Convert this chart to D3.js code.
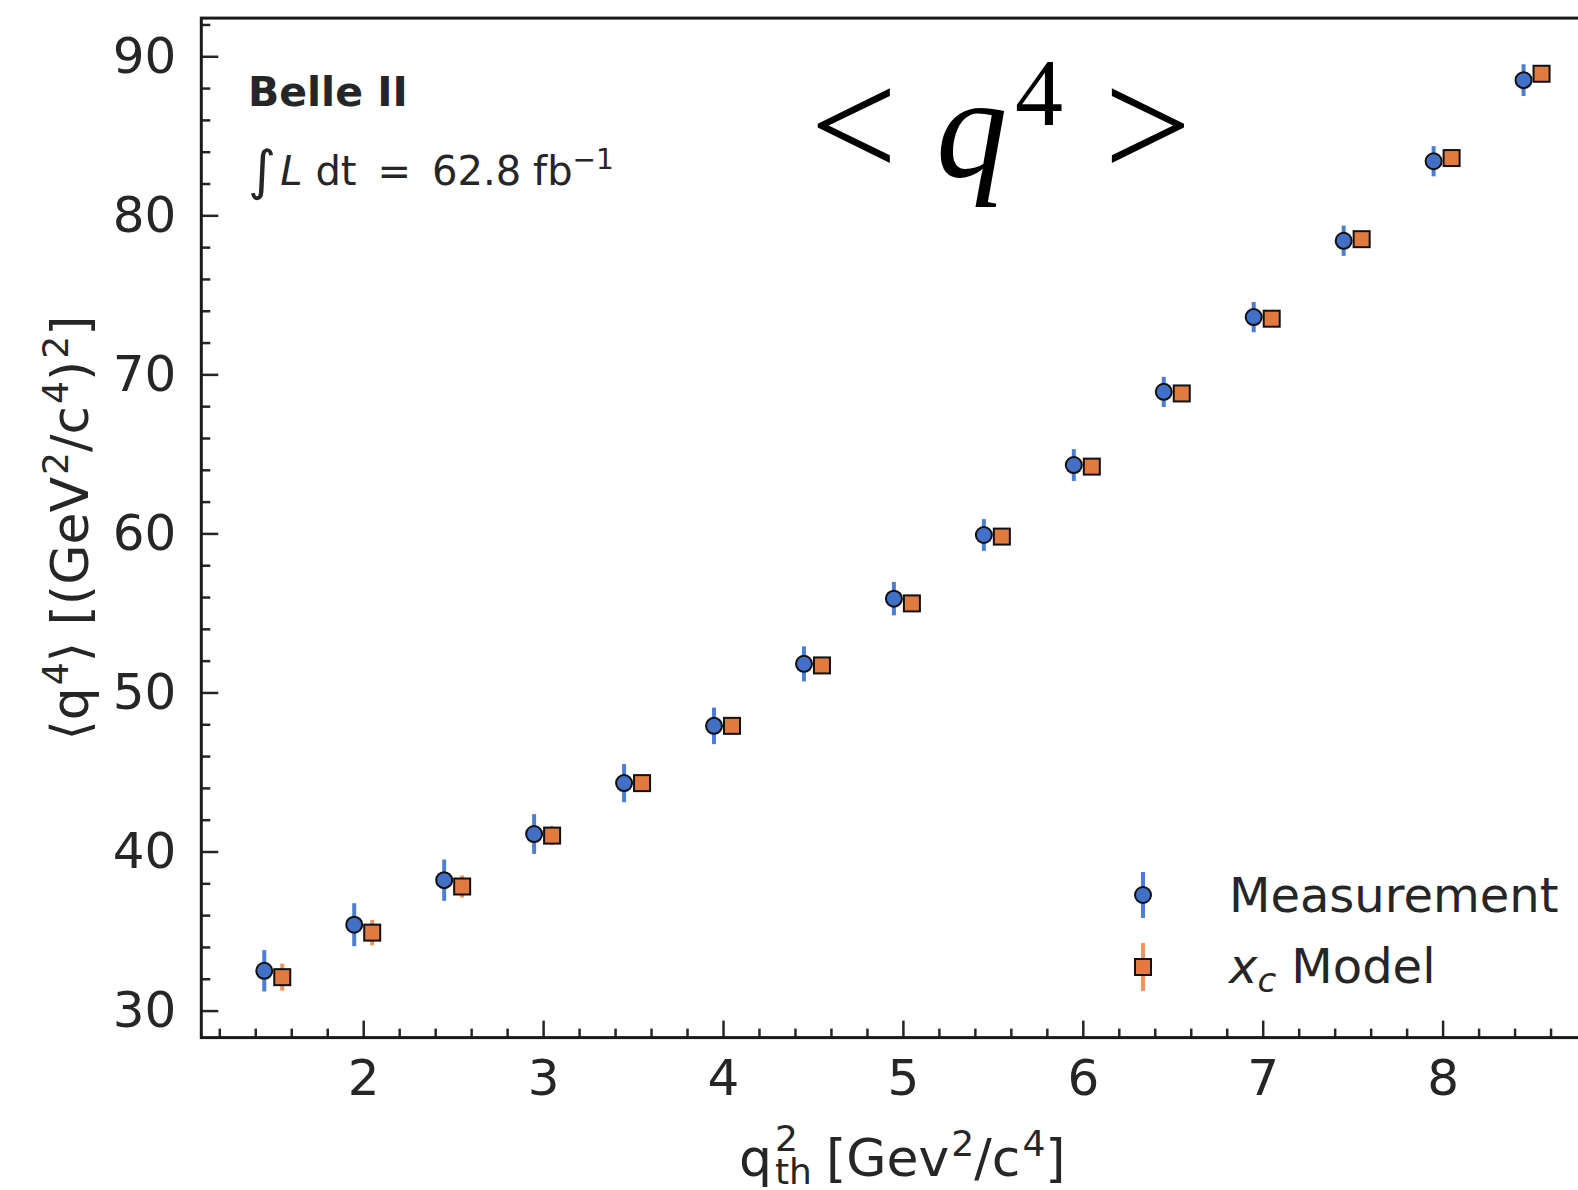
<!DOCTYPE html>
<html>
<head>
<meta charset="utf-8">
<script src="https://cdn.jsdelivr.net/npm/d3@7"></script>
<style>
  html, body { margin: 0; padding: 0; background: #fff; overflow: hidden; }
  svg { display: block; }
</style>
</head>
<body>
<svg id="chart"></svg>
<script>
// q2 threshold bins
const q2Bins = [1.5, 2.0, 2.5, 3.0, 3.5, 4.0, 4.5, 5.0, 5.5, 6.0, 6.5, 7.0, 7.5, 8.0, 8.5]
// measurement <q4> and its uncertainty
const measValues = [32.5, 35.4, 38.2, 41.1, 44.3, 47.9, 51.8, 55.9, 59.9, 64.3, 68.9, 73.6, 78.4, 83.4, 88.5]
const measErrors = [1.3, 1.35, 1.3, 1.25, 1.2, 1.15, 1.1, 1.05, 1.0, 1.0, 0.95, 0.95, 0.95, 0.95, 1.0]
// x_c model <q4> and its uncertainty
const modelValues = [32.1, 34.9, 37.8, 41.0, 44.3, 47.9, 51.7, 55.6, 59.8, 64.2, 68.8, 73.5, 78.5, 83.6, 88.9]
const modelErrors = [0.85, 0.8, 0.7, 0.6, 0.5, 0.45, 0.4, 0.35, 0.3, 0.3, 0.3, 0.3, 0.3, 0.3, 0.3]
const xTicks = [2, 3, 4, 5, 6, 7, 8]
const yTicks = [30, 40, 50, 60, 70, 80, 90]

const width = 1578, height = 1190
const plotLeft = 201.3, plotTop = 18.1, plotBottom = 1037.6
const offset = 0.05

const blue = '#4170c6', blueBar = '#4b7fd6'
const orange = '#e07a3e', orangeBar = '#f0955a'
const ink = '#262626'
const font = "'DejaVu Sans', sans-serif"
const serif = "'Liberation Serif', 'Times New Roman', serif"

const svg = d3.select('#chart').attr('width', width).attr('height', height)

const x = d3.scaleLinear().domain([1.1, 9.5]).range([plotLeft, plotLeft + 8.4 * 179.9])
const y = d3.scaleLinear().domain([28.3, 92.4]).range([plotBottom, plotTop])

const plotRight = x.range()[1]

// minor ticks
const xMinor = d3.range(1.2, 9.5, 0.2).filter(v => Math.abs(v - Math.round(v)) > 0.01)
const yMinor = d3.range(30, 93, 2).filter(v => v % 10 !== 0)

svg.append('g')
  .attr('transform', `translate(0,${plotBottom})`)
  .call(d3.axisBottom(x).tickValues(xMinor).tickSize(-9).tickFormat(''))
  .call(g => g.select('.domain').remove())
  .call(g => g.selectAll('line').attr('stroke', ink).attr('stroke-width', 2.5))

svg.append('g')
  .attr('transform', `translate(${plotLeft},0)`)
  .call(d3.axisLeft(y).tickValues(yMinor).tickSize(-9).tickFormat(''))
  .call(g => g.select('.domain').remove())
  .call(g => g.selectAll('line').attr('stroke', ink).attr('stroke-width', 2.5))

// major ticks
svg.append('g')
  .attr('transform', `translate(0,${plotBottom})`)
  .call(d3.axisBottom(x).tickValues(xTicks).tickSize(-17).tickPadding(22).tickFormat(d3.format('d')))
  .call(g => g.select('.domain').remove())
  .call(g => g.selectAll('line').attr('stroke', ink).attr('stroke-width', 2.5))
  .call(g => g.selectAll('text').attr('fill', ink).attr('font-size', 50).attr('font-family', font))

svg.append('g')
  .attr('transform', `translate(${plotLeft},0)`)
  .call(d3.axisLeft(y).tickValues(yTicks).tickSize(-17).tickPadding(25).tickFormat(d3.format('d')))
  .call(g => g.select('.domain').remove())
  .call(g => g.selectAll('line').attr('stroke', ink).attr('stroke-width', 2.5))
  .call(g => g.selectAll('text').attr('fill', ink).attr('font-size', 50).attr('font-family', font))

// frame
svg.append('rect')
  .attr('x', plotLeft).attr('y', plotTop)
  .attr('width', plotRight - plotLeft).attr('height', plotBottom - plotTop)
  .attr('fill', 'none').attr('stroke', '#1a1a1a').attr('stroke-width', 3)

// data
const meas = q2Bins.map((q, i) => ({ q: q - offset, v: measValues[i], e: measErrors[i] }))
const model = q2Bins.map((q, i) => ({ q: q + offset, v: modelValues[i], e: modelErrors[i] }))

const pts = svg.append('g')

pts.selectAll('.meas-bar').data(meas).enter().append('line')
  .attr('class', 'meas-bar')
  .attr('x1', d => x(d.q)).attr('x2', d => x(d.q))
  .attr('y1', d => y(d.v - d.e)).attr('y2', d => y(d.v + d.e))
  .attr('stroke', blueBar).attr('stroke-width', 4)

pts.selectAll('.model-bar').data(model).enter().append('line')
  .attr('class', 'model-bar')
  .attr('x1', d => x(d.q)).attr('x2', d => x(d.q))
  .attr('y1', d => y(d.v - d.e)).attr('y2', d => y(d.v + d.e))
  .attr('stroke', orangeBar).attr('stroke-width', 4)

pts.selectAll('.meas-pt').data(meas).enter().append('circle')
  .attr('class', 'meas-pt')
  .attr('cx', d => x(d.q)).attr('cy', d => y(d.v)).attr('r', 8)
  .attr('fill', blue).attr('stroke', '#111').attr('stroke-width', 2)

pts.selectAll('.model-pt').data(model).enter().append('rect')
  .attr('class', 'model-pt')
  .attr('x', d => x(d.q) - 8).attr('y', d => y(d.v) - 8)
  .attr('width', 16).attr('height', 16)
  .attr('fill', orange).attr('stroke', '#111').attr('stroke-width', 2)

// legend
const legend = svg.append('g').attr('transform', 'translate(1143,0)')
legend.append('line').attr('x1', 0).attr('x2', 0).attr('y1', 872).attr('y2', 918)
  .attr('stroke', blueBar).attr('stroke-width', 4)
legend.append('circle').attr('cx', 0).attr('cy', 895).attr('r', 8)
  .attr('fill', blue).attr('stroke', '#111').attr('stroke-width', 2)
legend.append('line').attr('x1', 0).attr('x2', 0).attr('y1', 943).attr('y2', 991)
  .attr('stroke', orangeBar).attr('stroke-width', 4)
legend.append('rect').attr('x', -8).attr('y', 959).attr('width', 16).attr('height', 16)
  .attr('fill', orange).attr('stroke', '#111').attr('stroke-width', 2)

svg.append('text').attr('x', 1229).attr('y', 912)
  .attr('font-family', font).attr('font-size', 48).attr('fill', ink)
  .text('Measurement')
const modelLabel = svg.append('text').attr('x', 1229).attr('y', 983)
  .attr('font-family', font).attr('font-size', 48).attr('fill', ink)
modelLabel.append('tspan').attr('font-style', 'italic').text('x')
modelLabel.append('tspan').attr('font-style', 'italic').attr('font-size', 34).attr('dy', 9).text('c')
modelLabel.append('tspan').attr('dy', -9).text('\u00a0Model')

// Belle II annotation
svg.append('text').attr('x', 248).attr('y', 106)
  .attr('font-family', font).attr('font-size', 41).attr('font-weight', 'bold').attr('fill', ink)
  .text('Belle II')

const lumi = svg.append('text').attr('x', 248).attr('y', 185)
  .attr('font-family', font).attr('font-size', 40).attr('fill', ink)
lumi.append('tspan').attr('font-size', 54).attr('dy', 4).text('\u222b')
lumi.append('tspan').attr('font-style', 'italic').attr('dy', -4).attr('dx', 4).text('L')
lumi.append('tspan').attr('dx', 13).text('dt')
lumi.append('tspan').attr('dx', 21).text('=')
lumi.append('tspan').attr('dx', 21).text('62.8')
lumi.append('tspan').attr('dx', 12).text('fb')
lumi.append('tspan').attr('font-size', 28).attr('dy', -16).text('\u22121')

// big title
svg.append('text').attr('x', 810).attr('y', 177)
  .attr('font-family', serif).attr('font-size', 155).attr('fill', '#000').text('<')
svg.append('text').attr('x', 936).attr('y', 176)
  .attr('font-family', serif).attr('font-size', 143).attr('font-style', 'italic').attr('fill', '#000').text('q')
svg.append('text').attr('x', 1015).attr('y', 125)
  .attr('font-family', serif).attr('font-size', 96).attr('fill', '#000').text('4')
svg.append('text').attr('x', 1104).attr('y', 177)
  .attr('font-family', serif).attr('font-size', 155).attr('fill', '#000').text('>')

// x label
const xl = svg.append('text').attr('y', 1176)
  .attr('font-family', font).attr('font-size', 52).attr('fill', ink)
xl.append('tspan').attr('x', 739).text('q')
xl.append('tspan').attr('x', 775).attr('y', 1151).attr('font-size', 36).text('2')
xl.append('tspan').attr('x', 775).attr('y', 1184).attr('font-size', 36).text('th')
xl.append('tspan').attr('x', 826).attr('y', 1176).text('[Gev')
xl.append('tspan').attr('font-size', 36).attr('dy', -20).attr('dx', 2).text('2')
xl.append('tspan').attr('dy', 20).text('/c')
xl.append('tspan').attr('font-size', 36).attr('dy', -20).attr('dx', 2).text('4')
xl.append('tspan').attr('dy', 20).text(']')

// y label
const yl = svg.append('text')
  .attr('transform', 'translate(88,528) rotate(-90)')
  .attr('text-anchor', 'middle')
  .attr('font-family', font).attr('font-size', 52).attr('fill', ink)
yl.append('tspan').text('\u27e8q')
yl.append('tspan').attr('font-size', 36).attr('dy', -20).attr('dx', 2).text('4')
yl.append('tspan').attr('dy', 20).text('\u27e9 [(GeV')
yl.append('tspan').attr('font-size', 36).attr('dy', -20).attr('dx', 2).text('2')
yl.append('tspan').attr('dy', 20).text('/c')
yl.append('tspan').attr('font-size', 36).attr('dy', -20).attr('dx', 2).text('4')
yl.append('tspan').attr('dy', 20).text(')')
yl.append('tspan').attr('font-size', 36).attr('dy', -20).attr('dx', 2).text('2')
yl.append('tspan').attr('dy', 20).text(']')
</script>
</body>
</html>
